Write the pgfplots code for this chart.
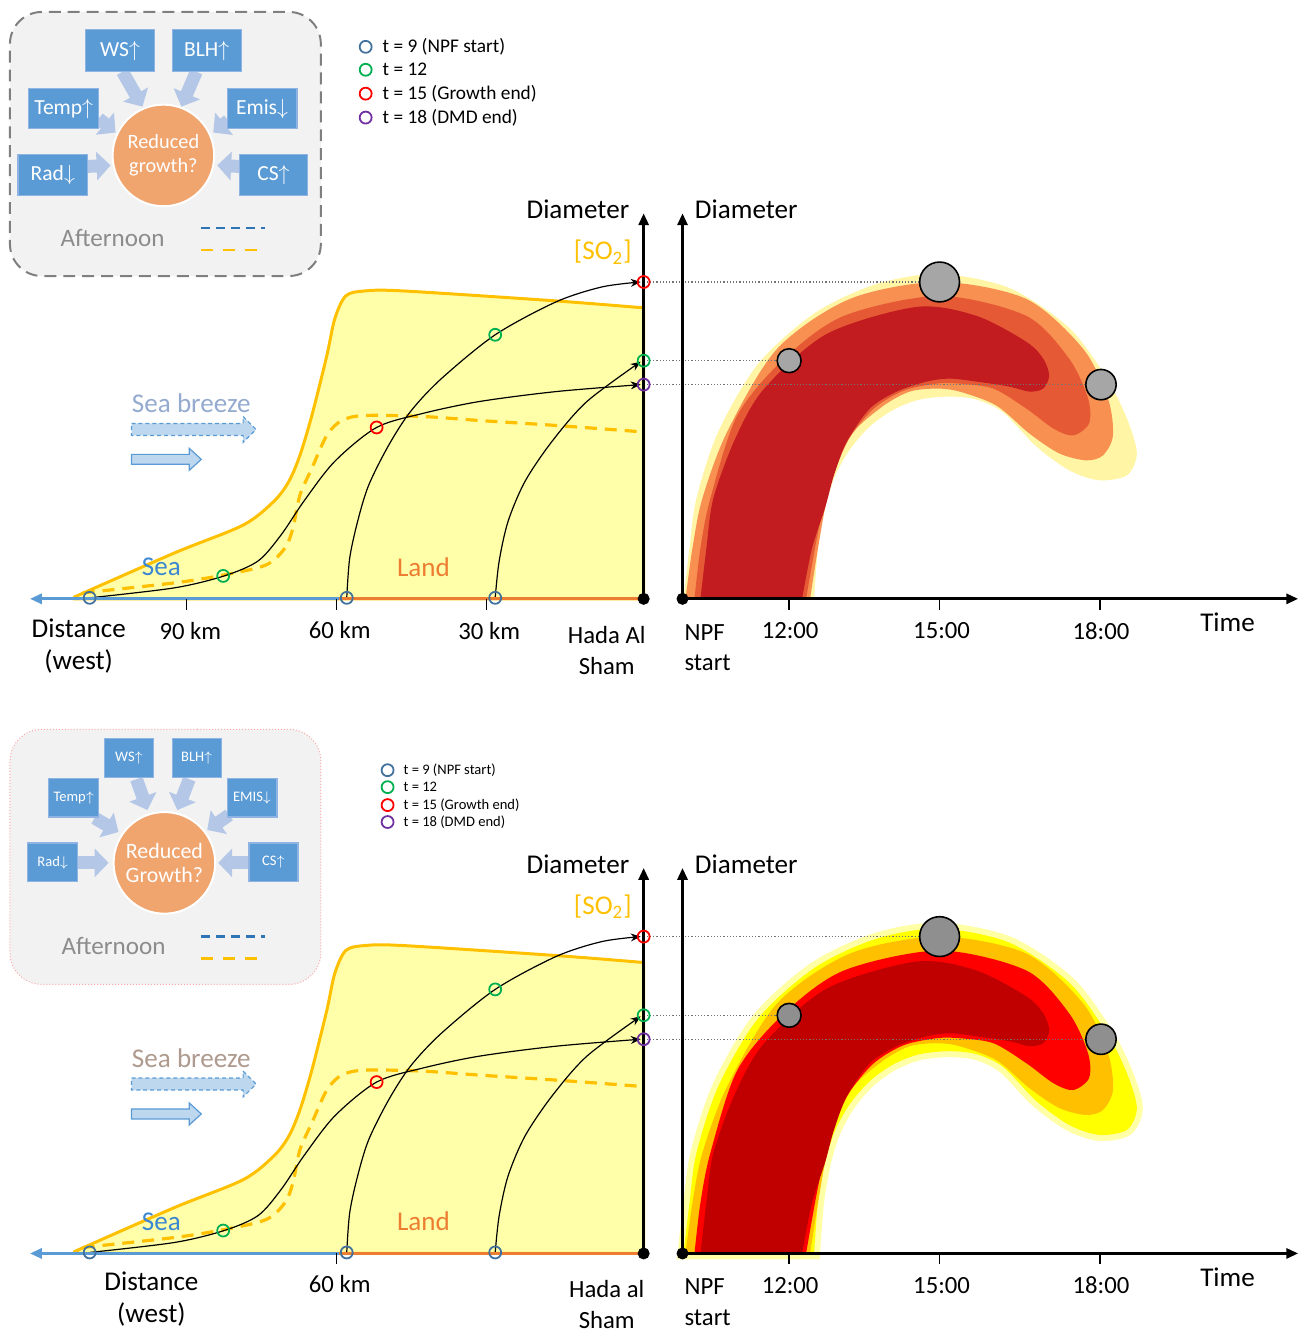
\documentclass[border=0pt]{standalone}
\usepackage{pgfplots}
\pgfplotsset{compat=1.18}
\usetikzlibrary{arrows.meta}
\usepackage{fontspec}
\setmainfont{Carlito}
\definecolor{yfill}{HTML}{FFFFAA}
\definecolor{ygold}{HTML}{FFC000}
\definecolor{seab}{HTML}{5B9BD5}
\definecolor{seatext}{HTML}{3C87D2}
\definecolor{landor}{HTML}{ED7D31}
\definecolor{boxblue}{HTML}{5B9BD5}
\definecolor{boxedge}{HTML}{8FB4E3}
\definecolor{arrblue}{HTML}{B4C7E7}
\definecolor{circor}{HTML}{F0A46E}
\definecolor{insetbg}{HTML}{F2F2F2}
\definecolor{insetline}{HTML}{7F7F7F}
\definecolor{aftgray}{HTML}{8C8C8C}
\definecolor{dashblue}{HTML}{2E75B6}
\definecolor{legblue}{HTML}{41719C}
\definecolor{leggreen}{HTML}{00B050}
\definecolor{legred}{HTML}{FF0000}
\definecolor{legpurple}{HTML}{7030A0}
\definecolor{breezefill}{HTML}{BDD7EE}
\definecolor{breezeline}{HTML}{5B9BD5}
\definecolor{bA}{HTML}{FFF5A5}
\definecolor{bB}{HTML}{F79050}
\definecolor{bC}{HTML}{E55A35}
\definecolor{bD}{HTML}{C21B20}
\definecolor{sbtext}{HTML}{94AACF}
\definecolor{graydot}{HTML}{A6A6A6}
\tikzset{
  lbl/.style={font=\fontsize{13.6}{16}\selectfont},
  tck/.style={font=\fontsize{12.4}{15.5}\selectfont},
  glowsty/.style={draw=none},
}
\pgfplotsset{myax/.style={x=0.5pt, y=0.5pt, y dir=reverse, hide axis, clip=false,
  xmin=0, xmax=1303, scale only axis}}

\newcommand{\bbox}[7]{% x1 y1 x2 y2 cx cy text
  \addplot[fill=boxblue, draw=boxedge, line width=0.6pt] coordinates {(#1,#2)(#3,#2)(#3,#4)(#1,#4)} -- cycle;
  \node[text=white, font=\boxfont] at (axis cs:#5,#6) {#7};
}
\newcommand{\iarrow}[4]{%
  \addplot[arrblue, line width=6.5pt, -{Triangle[length=7pt,width=14pt]}] coordinates {(#1,#2)(#3,#4)};
}
\newcommand{\redcirc}[4]{% x y fontsize text
  \addplot[only marks, mark=*, mark size=25.5pt, mark options={fill=circor, draw=white, line width=1pt},
    nodes near coords={#4}, nodes near coords align=center,
    every node near coord/.append style={text=white, align=center, anchor=center, font=\fontsize{#3}{12}\selectfont}]
    coordinates {(#1,#2)};
}

\newcommand{\panel}{%
  % yellow SO2 area
  \addplot[fill=yfill, draw=ygold, line width=1.5pt, smooth] coordinates {(75,599)(175,555)(244,527)(275,503)(290,483)(301,457)(313,417)(328,357)(336,320)(347,297)(366,292)(405,292)(558,302)(646,309)} -- (axis cs:646,601) -- (axis cs:75,601) -- cycle;
  \addplot[ygold, line width=1.6pt, dash pattern=on 6pt off 4pt, smooth] coordinates {(83,595)(175,585)(225,577)(267,567)(286,550)(294,530)(301,497)(313,470)(328,437)(343,422)(366,417)(424,418)(481,422)(558,427)(639,433)};
  % trajectories
  \addplot[black, line width=0.6pt, smooth, -{Stealth[length=5pt,width=4pt]}] coordinates {(90,600)(175,590)(225,578)(259,563)(282,537)(305,503)(336,463)(378,429)(424,415)(481,403)(558,393)(643,386)};
  \addplot[black, line width=0.6pt, smooth, -{Stealth[length=5pt,width=4pt]}] coordinates {(348,600)(351,560)(359,523)(370,487)(390,447)(412,413)(443,380)(497,336)(558,303)(604,288)(643,283)};
  \addplot[black, line width=0.6pt, smooth, -{Stealth[length=5pt,width=4pt]}] coordinates {(497,600)(501,563)(510,523)(527,483)(554,443)(589,403)(643,363)};
  % sea breeze arrows
  \addplot[fill=breezefill, draw=breezeline, line width=0.6pt, dash pattern=on 2pt off 1.5pt] coordinates {(132,425)(244,425)(244,418)(257,431)(244,444)(244,437)(132,437)} -- cycle;
  \addplot[fill=breezefill, draw=breezeline, line width=0.6pt] coordinates {(132,456)(190,456)(190,450)(202,461)(190,472)(190,466)(132,466)} -- cycle;
  % banana
  \addplot[fill=bA, glowsty, smooth] coordinates {(686,601)(692,550)(699,500)(721,433)(761,365)(818,314)(880,285)(943,275)(1013,289)(1073,329)(1111,380)(1131,420)(1141,455)(1131,477)(1103,482)(1073,472)(1040,448)(1007,414)(980,401)(953,398)(923,401)(897,411)(873,428)(853,451)(838,478)(828,510)(821,550)(817,601)} -- cycle;
  \addplot[fill=bB, draw=none, smooth] coordinates {(688,601)(695,550)(705,500)(730,433)(780,350)(853,300)(943,283)(1030,300)(1087,350)(1112,400)(1117,437)(1107,457)(1090,462)(1063,455)(1033,435)(1000,407)(963,393)(940,390)(913,393)(887,407)(857,433)(840,467)(830,500)(821,550)(813,601)} -- cycle;
  \addplot[fill=bC, draw=none, smooth] coordinates {(697,601)(703,550)(713,500)(740,417)(787,360)(847,317)(943,297)(1030,317)(1073,360)(1092,400)(1093,425)(1077,437)(1057,430)(1030,410)(997,390)(963,385)(940,385)(907,392)(877,410)(852,440)(835,475)(826,510)(818,550)(809,601)} -- cycle;
  \addplot[fill=bD, draw=none, smooth] coordinates {(703,601)(709,550)(716,500)(738,440)(767,390)(830,335)(920,308)(980,317)(1030,343)(1047,360)(1053,377)(1047,390)(1033,393)(1013,388)(980,383)(953,380)(930,383)(900,393)(873,410)(850,443)(837,477)(828,510)(815,550)(805,601)} -- cycle;
  % dotted guides
  \addplot[black!55, line width=0.6pt, densely dotted] coordinates {(646,283)(925,283)};
  \addplot[black!55, line width=0.6pt, densely dotted] coordinates {(646,362)(782,362)};
  \addplot[black!55, line width=0.6pt, densely dotted] coordinates {(646,386)(1092,386)};
  % left axes
  \addplot[seab, line width=1.6pt, -{Triangle[length=6pt,width=5pt]}] coordinates {(340,601)(30,601)};
  \addplot[landor, line width=1.6pt] coordinates {(340,601)(646,601)};
  \addplot[black, line width=1.6pt, -{Triangle[length=6pt,width=5pt]}] coordinates {(646,601)(646,214)};
  \addplot[black, line width=0.7pt] coordinates {(338,601)(338,612)};
  % right axes
  \addplot[black, line width=1.6pt, -{Triangle[length=6pt,width=5pt]}] coordinates {(685,601)(1303,601)};
  \addplot[black, line width=1.6pt, -{Triangle[length=6pt,width=5pt]}] coordinates {(685,601)(685,214)};
  \addplot[black, line width=0.7pt] coordinates {(792,601)(792,612)};
  \addplot[black, line width=0.7pt] coordinates {(943,601)(943,612)};
  \addplot[black, line width=0.7pt] coordinates {(1104,601)(1104,612)};
  \addplot[only marks, mark=*, mark size=2.8pt, black] coordinates {(646,601)(685,601)};
  % grey particles
  \addplot[only marks, mark=*, mark size=6pt, mark options={fill=graydot, draw=black, line width=0.8pt}] coordinates {(792,362)};
  \addplot[only marks, mark=*, mark size=10pt, mark options={fill=graydot, draw=black, line width=0.8pt}] coordinates {(943,283)};
  \addplot[only marks, mark=*, mark size=7.6pt, mark options={fill=graydot, draw=black, line width=0.8pt}] coordinates {(1105,386)};
  % time markers
  \addplot[only marks, mark=o, mark size=3pt, legblue, mark options={line width=0.9pt}] coordinates {(90,600)(348,600)(497,600)};
  \addplot[only marks, mark=o, mark size=3pt, leggreen, mark options={line width=0.9pt}] coordinates {(224,578)(497,336)(646,362)};
  \addplot[only marks, mark=o, mark size=3pt, legred, mark options={line width=0.9pt}] coordinates {(378,429)(646,283)};
  \addplot[only marks, mark=o, mark size=3pt, legpurple, mark options={line width=0.9pt}] coordinates {(646,386)};
  % texts
  \node[lbl] at (axis cs:580,210) {Diameter};
  \node[lbl] at (axis cs:749,210) {Diameter};
  \node[lbl, text=ygold] at (axis cs:605,253) {[SO\textsubscript{2}]};
  \node[lbl, text=seatext] at (axis cs:162,569) {Sea};
  \node[lbl, text=landor] at (axis cs:425,569) {Land};
  \node[lbl, text=sbtext] at (axis cs:192,405) {Sea breeze};
  \node[tck] at (axis cs:341,632) {60 km};
  \node[tck] at (axis cs:793,633) {12:00};
  \node[tck] at (axis cs:945,633) {15:00};
  \node[tck] at (axis cs:1105,633) {18:00};
  \node[tck, anchor=west, align=left] at (axis cs:680,650) {NPF\\start};
  \node[lbl] at (axis cs:1232,625) {Time};
}

\begin{document}
\begin{tikzpicture}
%================ TOP =================
\begin{axis}[myax, ymin=0, ymax=667.5, at={(0,0)}, anchor=north west]
\addplot[draw=none] coordinates {(0,0)(1303,667.5)};
% inset
\addplot[fill=insetbg, draw=insetline, line width=1pt, dash pattern=on 6pt off 3.5pt, rounded corners=16pt] coordinates {(166,12)(322,12)(322,277)(10,277)(10,12)} -- cycle;
\iarrow{123}{72}{143}{107}
\iarrow{197}{72}{182}{107}
\iarrow{99}{119}{116}{133}
\iarrow{229}{121}{214}{133}
\iarrow{88}{167}{111}{166}
\iarrow{240}{167}{218}{166}
\def\boxfont{\fontsize{10.8}{13}\selectfont}
\bbox{86}{30}{155}{72}{120.5}{51}{WS$\uparrow$}
\bbox{173}{30}{242}{72}{207.5}{51}{BLH$\uparrow$}
\bbox{29}{89}{99}{129}{64}{109}{Temp$\uparrow$}
\bbox{228}{89}{298}{129}{263}{109}{Emis$\downarrow$}
\bbox{18}{155}{88}{196}{53}{175.5}{Rad$\downarrow$}
\bbox{240}{155}{309}{196}{274.5}{175.5}{CS$\uparrow$}
\redcirc{164}{156}{10.2}{Reduced\\growth?}
\node[text=aftgray, font=\fontsize{12.6}{15}\selectfont] at (axis cs:113,239) {Afternoon};
\addplot[dashblue, line width=1.3pt, dash pattern=on 4.5pt off 3pt] coordinates {(202,229)(266,229)};
\addplot[ygold, line width=1.4pt, dash pattern=on 6pt off 5pt] coordinates {(202,251)(260,251)};
% legend
\def\lf{\fontsize{9.7}{11}\selectfont}
\addplot[only marks, mark=o, mark size=3pt, legblue, mark options={line width=0.9pt}] coordinates {(367,47)};
\addplot[only marks, mark=o, mark size=3pt, leggreen, mark options={line width=0.9pt}] coordinates {(367,70)};
\addplot[only marks, mark=o, mark size=3pt, legred, mark options={line width=0.9pt}] coordinates {(367,94)};
\addplot[only marks, mark=o, mark size=3pt, legpurple, mark options={line width=0.9pt}] coordinates {(367,118)};
\node[anchor=west, font=\lf] at (axis cs:377,47) {t = 9 (NPF start)};
\node[anchor=west, font=\lf] at (axis cs:377,70) {t = 12};
\node[anchor=west, font=\lf] at (axis cs:377,94) {t = 15 (Growth end)};
\node[anchor=west, font=\lf] at (axis cs:377,118) {t = 18 (DMD end)};
\panel
\addplot[black, line width=0.7pt] coordinates {(187,601)(187,612)};
\addplot[black, line width=0.7pt] coordinates {(488,601)(488,612)};
\node[tck] at (axis cs:191,633) {90 km};
\node[tck] at (axis cs:491,633) {30 km};
\node[lbl, align=center] at (axis cs:79,648) {Distance\\(west)};
\node[tck, align=center] at (axis cs:609,653) {Hada Al\\Sham};
\end{axis}
%================ BOTTOM =================
\definecolor{bA}{HTML}{FFFF00}
\definecolor{bB}{HTML}{FFC000}
\definecolor{bC}{HTML}{FF0000}
\definecolor{bD}{HTML}{C00000}
\definecolor{sbtext}{HTML}{AE9A8E}
\definecolor{graydot}{HTML}{8F8F8F}
\tikzset{glowsty/.style={draw=bA, draw opacity=0.35, line width=6pt}}
\begin{axis}[myax, ymin=10.5, ymax=678, at={(0,-333.75pt)}, anchor=north west]
\addplot[draw=none] coordinates {(0,10.5)(1303,678)};
\addplot[fill=insetbg, draw=red!35, line width=0.5pt, densely dotted, rounded corners=16pt] coordinates {(166,75)(322,75)(322,331)(10,331)(10,75)} -- cycle;
\iarrow{137}{125}{148}{156}
\iarrow{190}{125}{178}{156}
\iarrow{95}{164}{119}{178}
\iarrow{230}{161}{208}{176}
\iarrow{78}{209}{109}{209}
\iarrow{250}{209}{219}{209}
\def\boxfont{\fontsize{7.3}{9}\selectfont}
\bbox{105}{84}{154}{123}{129.5}{103.5}{WS$\uparrow$}
\bbox{173}{84}{222}{123}{197.5}{103.5}{BLH$\uparrow$}
\bbox{49}{124}{99}{163}{74}{143.5}{Temp$\uparrow$}
\bbox{228}{124}{278}{163}{253}{143.5}{EMIS$\downarrow$}
\bbox{28}{189}{78}{228}{53}{208.5}{Rad$\downarrow$}
\bbox{250}{189}{299}{228}{274.5}{208.5}{CS$\uparrow$}
\redcirc{165}{209}{11}{Reduced\\Growth?}
\node[text=aftgray, font=\fontsize{12.6}{15}\selectfont] at (axis cs:114,292) {Afternoon};
\addplot[dashblue, line width=1.3pt, dash pattern=on 4.5pt off 3pt] coordinates {(202,283)(266,283)};
\addplot[ygold, line width=1.4pt, dash pattern=on 6pt off 5pt] coordinates {(202,305)(260,305)};
\def\lf{\fontsize{7.3}{9}\selectfont}
\addplot[only marks, mark=o, mark size=3pt, legblue, mark options={line width=0.9pt}] coordinates {(389,116)};
\addplot[only marks, mark=o, mark size=3pt, leggreen, mark options={line width=0.9pt}] coordinates {(389,133)};
\addplot[only marks, mark=o, mark size=3pt, legred, mark options={line width=0.9pt}] coordinates {(389,151)};
\addplot[only marks, mark=o, mark size=3pt, legpurple, mark options={line width=0.9pt}] coordinates {(389,168)};
\node[anchor=west, font=\lf] at (axis cs:398,116) {t = 9 (NPF start)};
\node[anchor=west, font=\lf] at (axis cs:398,133) {t = 12};
\node[anchor=west, font=\lf] at (axis cs:398,151) {t = 15 (Growth end)};
\node[anchor=west, font=\lf] at (axis cs:398,168) {t = 18 (DMD end)};
\panel
\node[lbl, align=center] at (axis cs:152,647) {Distance\\(west)};
\node[tck, align=center] at (axis cs:609,652) {Hada al\\Sham};
\end{axis}
\end{tikzpicture}
\end{document}
